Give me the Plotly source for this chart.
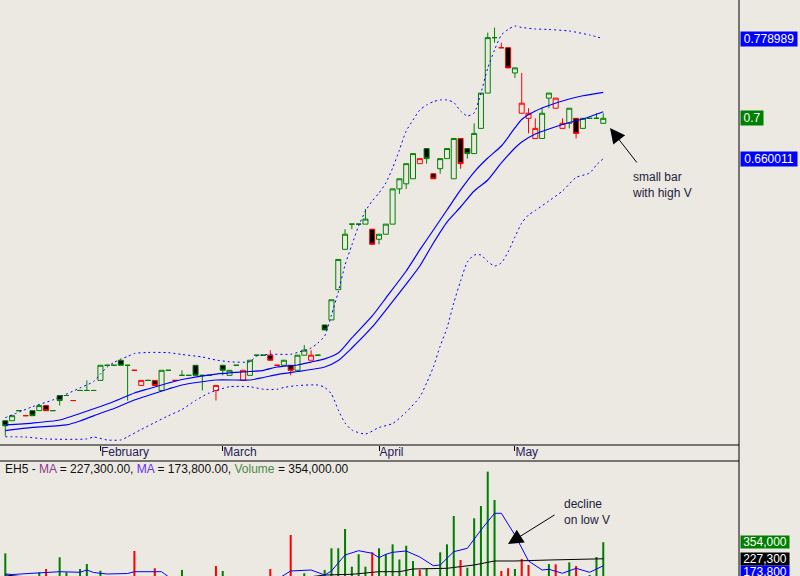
import plotly.graph_objects as go

# ---------------- data ----------------
session = list(range(1, 90))  # trading session number
month_names = ["February", "March", "April", "May"]
month_start_session = [15, 33, 56, 76]

open_ = [0.400, 0.400, 0.410, 0.405, 0.410, 0.410, 0.415, 0.410, 0.425, 0.425,
         0.420, 0.430, 0.430, 0.430, 0.440, 0.455, 0.455, 0.460, 0.455, 0.450,
         0.435, 0.440, 0.440, 0.430, 0.450, 0.440, 0.445, 0.445, 0.455, 0.445,
         0.445, 0.430, 0.455, 0.445, 0.455, 0.440, 0.445, 0.465, 0.465, 0.465,
         0.455, 0.455, 0.455, 0.450, 0.465, 0.460, 0.465, 0.495, 0.500, 0.530,
         0.570, 0.595, 0.595, 0.595, 0.590, 0.580, 0.585, 0.595, 0.630, 0.635,
         0.640, 0.655, 0.670, 0.645, 0.650, 0.660, 0.640, 0.680, 0.670, 0.665,
         0.690, 0.725, 0.780, 0.770, 0.770, 0.745, 0.705, 0.700, 0.680, 0.680,
         0.720, 0.710, 0.690, 0.695, 0.700, 0.690, 0.700, 0.700, 0.695]
high = [0.400, 0.405, 0.410, 0.405, 0.410, 0.415, 0.415, 0.410, 0.425, 0.425,
        0.420, 0.430, 0.440, 0.430, 0.455, 0.455, 0.455, 0.460, 0.455, 0.450,
        0.440, 0.440, 0.440, 0.450, 0.450, 0.440, 0.450, 0.445, 0.455, 0.445,
        0.445, 0.435, 0.455, 0.450, 0.455, 0.450, 0.460, 0.465, 0.465, 0.470,
        0.455, 0.460, 0.455, 0.465, 0.475, 0.470, 0.465, 0.495, 0.520, 0.560,
        0.590, 0.595, 0.595, 0.610, 0.590, 0.585, 0.595, 0.630, 0.640, 0.655,
        0.665, 0.660, 0.670, 0.645, 0.660, 0.670, 0.680, 0.680, 0.670, 0.695,
        0.725, 0.785, 0.790, 0.775, 0.770, 0.750, 0.745, 0.710, 0.700, 0.710,
        0.725, 0.720, 0.700, 0.710, 0.700, 0.700, 0.700, 0.705, 0.705]
low = [0.385, 0.400, 0.410, 0.405, 0.405, 0.410, 0.410, 0.410, 0.415, 0.425,
       0.420, 0.430, 0.430, 0.430, 0.440, 0.455, 0.455, 0.455, 0.420, 0.450,
       0.435, 0.440, 0.435, 0.430, 0.450, 0.440, 0.445, 0.445, 0.445, 0.430,
       0.445, 0.420, 0.445, 0.445, 0.455, 0.440, 0.445, 0.465, 0.465, 0.460,
       0.455, 0.455, 0.445, 0.450, 0.465, 0.460, 0.465, 0.490, 0.500, 0.530,
       0.570, 0.590, 0.595, 0.595, 0.575, 0.575, 0.585, 0.595, 0.625, 0.630,
       0.640, 0.655, 0.655, 0.640, 0.645, 0.660, 0.640, 0.650, 0.660, 0.665,
       0.690, 0.725, 0.775, 0.770, 0.750, 0.740, 0.705, 0.685, 0.680, 0.680,
       0.710, 0.710, 0.690, 0.690, 0.680, 0.690, 0.700, 0.700, 0.695]
close = [0.395, 0.405, 0.410, 0.405, 0.405, 0.415, 0.410, 0.410, 0.420, 0.425,
         0.420, 0.430, 0.430, 0.430, 0.455, 0.455, 0.455, 0.455, 0.455, 0.450,
         0.440, 0.440, 0.435, 0.450, 0.450, 0.440, 0.445, 0.445, 0.445, 0.445,
         0.445, 0.435, 0.450, 0.450, 0.455, 0.450, 0.460, 0.465, 0.465, 0.460,
         0.455, 0.460, 0.450, 0.465, 0.470, 0.465, 0.465, 0.490, 0.520, 0.560,
         0.585, 0.595, 0.595, 0.600, 0.575, 0.585, 0.595, 0.630, 0.640, 0.655,
         0.665, 0.660, 0.660, 0.640, 0.660, 0.670, 0.680, 0.655, 0.665, 0.685,
         0.725, 0.780, 0.780, 0.770, 0.750, 0.750, 0.715, 0.705, 0.690, 0.705,
         0.725, 0.720, 0.695, 0.710, 0.685, 0.700, 0.700, 0.700, 0.700]
volume = [269000, 70000, 60000, 55000, 65000, 124000, 149000, 60000, 239000, 124000,
          70000, 149000, 187000, 60000, 136000, 50000, 55000, 65000, 60000, 287000,
          70000, 50000, 155000, 80000, 50000, 45000, 142000, 50000, 70000, 60000,
          40000, 172000, 134000, 60000, 50000, 70000, 80000, 45000, 40000, 149000,
          60000, 70000, 409000, 80000, 116000, 60000, 50000, 142000, 308000, 308000,
          455000, 167000, 262000, 167000, 277000, 308000, 262000, 338000, 222000, 327000,
          210000, 142000, 155000, 80000, 277000, 338000, 555000, 218000, 159000, 537000,
          631000, 894000, 677000, 134000, 155000, 149000, 226000, 180000, 80000, 70000,
          187000, 185000, 80000, 200000, 172000, 70000, 103000, 241000, 354000]

# moving-average envelope (two solid blue lines)
ma_hi_session = [1, 5, 9, 12, 15, 17, 20, 22, 25, 27, 32, 37, 39, 41, 44, 46, 48, 50, 52, 55,
                 57, 60, 62, 64, 66, 68, 70, 72, 74, 76, 77, 79, 81, 84, 86, 89]
ma_hi = [0.3958, 0.3977, 0.4007, 0.4072, 0.4141, 0.4191, 0.4275, 0.4315, 0.4374, 0.4409,
         0.4463, 0.4488, 0.4500, 0.4533, 0.4553, 0.4582, 0.4614, 0.4672, 0.4821, 0.5039,
         0.5217, 0.5485, 0.5694, 0.5892, 0.6090, 0.6289, 0.6467, 0.6606, 0.6725, 0.6904,
         0.6988, 0.7072, 0.7127, 0.7191, 0.7224, 0.7258]
ma_lo_session = [1, 5, 10, 12, 15, 17, 20, 22, 25, 27, 32, 37, 39, 41, 44, 46, 48, 50, 52, 55,
                 57, 60, 62, 64, 66, 68, 70, 72, 74, 76, 77, 79, 81, 84, 86, 89]
ma_lo = [0.3901, 0.3933, 0.3958, 0.3997, 0.4074, 0.4121, 0.4206, 0.4250, 0.4315, 0.4354,
         0.4404, 0.4404, 0.4429, 0.4458, 0.4488, 0.4508, 0.4533, 0.4597, 0.4721, 0.4930,
         0.5098, 0.5356, 0.5535, 0.5763, 0.5971, 0.6120, 0.6279, 0.6388, 0.6557, 0.6705,
         0.6765, 0.6844, 0.6894, 0.6958, 0.6993, 0.7065]

# Bollinger bands (dotted)
bb_up_session = [1, 5, 8, 12, 14, 15, 16, 17, 18, 19, 20, 22, 25, 27, 30, 32, 34, 37, 38, 40,
                 43, 44, 46, 47, 48, 49, 50, 51, 52, 53, 54, 55, 56, 57, 58, 59, 60, 61, 62, 63,
                 64, 65, 66, 67, 68, 69, 70, 71, 72, 73, 74, 75, 76, 77, 79, 81, 84, 87, 89]
bb_up = [0.4030, 0.4139, 0.4206, 0.4325, 0.4389, 0.4463, 0.4533, 0.4578, 0.4612, 0.4637,
         0.4667, 0.4677, 0.4675, 0.4657, 0.4632, 0.4602, 0.4585, 0.4585, 0.4642, 0.4659,
         0.4659, 0.4677, 0.4721, 0.4771, 0.4840, 0.5049, 0.5277, 0.5545, 0.5743, 0.5932,
         0.6080, 0.6180, 0.6259, 0.6358, 0.6507, 0.6686, 0.6874, 0.6983, 0.7082, 0.7132,
         0.7165, 0.7182, 0.7182, 0.7157, 0.7072, 0.7023, 0.7053, 0.7251, 0.7499, 0.7678,
         0.7826, 0.7881, 0.7916, 0.7901, 0.7886, 0.7881, 0.7866, 0.7826, 0.778989]
bb_lo_session = [1, 4, 7, 13, 14, 16, 18, 19, 21, 23, 25, 27, 29, 31, 34, 37, 39, 41, 42, 44,
                 47, 48, 49, 50, 51, 52, 54, 56, 58, 60, 62, 63, 64, 65, 66, 67, 68, 69, 70, 71,
                 72, 73, 74, 75, 76, 77, 78, 79, 81, 83, 85, 87, 88, 89]
bb_lo = [0.3841, 0.3838, 0.3819, 0.3819, 0.3838, 0.3809, 0.3809, 0.3841, 0.3913, 0.3982,
         0.4049, 0.4111, 0.4201, 0.4275, 0.4337, 0.4337, 0.4312, 0.4312, 0.4330, 0.4349,
         0.4354, 0.4330, 0.4265, 0.4106, 0.3977, 0.3908, 0.3868, 0.3933, 0.3972, 0.4086,
         0.4235, 0.4374, 0.4533, 0.4741, 0.4920, 0.5168, 0.5386, 0.5574, 0.5644, 0.5644,
         0.5579, 0.5535, 0.5565, 0.5674, 0.5822, 0.5961, 0.6041, 0.6085, 0.6180, 0.6279,
         0.6413, 0.6457, 0.6537, 0.660011]

# volume moving averages
vma_fast_session = [1, 2, 9, 12, 13, 14, 15, 16, 19, 20, 24, 25, 30, 37, 41, 42, 43, 46, 48, 49,
                    50, 51, 53, 55, 56, 57, 58, 60, 62, 64, 65, 67, 69, 71, 73, 74, 76, 78, 80, 81,
                    83, 85, 87, 89]
vma_fast = [111000, 107000, 128500, 124000, 141500, 122400, 116300, 111000, 114700, 128500,
            128500, 90000, 60000, 55000, 70000, 100000, 134000, 141500, 103300, 134000,
            195000, 256300, 289200, 269300, 235600, 261600, 276900, 286900, 241000, 174400,
            179800, 281500, 307500, 447500, 575300, 575300, 409300, 210400, 141500, 146900,
            116300, 154500, 123900, 173800]
vma_slow_session = [1, 2, 3, 8, 20, 35, 46, 48, 52, 54, 56, 59, 61, 66, 70, 73, 76, 81, 86, 89]
vma_slow = [103300, 101000, 93000, 80000, 75000, 75000, 90000, 103000, 108600, 116300,
            128500, 128500, 149200, 154500, 179800, 210400, 210400, 218000, 223400, 227300]

# ---------------- styling ----------------
BG = "#ECE9E3"
GREEN = "#008000"
RED = "#FF0000"
BLUE = "#0000FF"
FONT = "Arial, Liberation Sans, sans-serif"
TXT = "#1c1c3c"
W, H = 800, 576
PLOT_W = 739

n = len(session)
up = [True] + [close[i] >= close[i - 1] for i in range(1, n)]

fig = go.Figure()

for flag, col in ((True, GREEN), (False, RED)):
    idx = [i for i in range(n) if up[i] == flag]
    fig.add_trace(go.Candlestick(
        x=[session[i] for i in idx],
        open=[open_[i] for i in idx], high=[high[i] for i in idx],
        low=[low[i] for i in idx], close=[close[i] for i in idx],
        increasing=dict(line=dict(color=col, width=1), fillcolor=BG),
        decreasing=dict(line=dict(color=col, width=1), fillcolor="black"),
        whiskerwidth=0, xaxis="x", yaxis="y", showlegend=False, hoverinfo="skip"))

for xs, ys in ((bb_up_session, bb_up), (bb_lo_session, bb_lo)):
    fig.add_trace(go.Scatter(x=xs, y=ys, mode="lines", xaxis="x", yaxis="y",
                             line=dict(color=BLUE, width=1, dash="2px,3px", shape="spline", smoothing=0.6),
                             hoverinfo="skip", showlegend=False))
for xs, ys in ((ma_hi_session, ma_hi), (ma_lo_session, ma_lo)):
    fig.add_trace(go.Scatter(x=xs, y=ys, mode="lines", xaxis="x", yaxis="y",
                             line=dict(color=BLUE, width=1.2, shape="spline", smoothing=0.6),
                             hoverinfo="skip", showlegend=False))

fig.add_trace(go.Bar(x=session, y=volume, width=0.3,
                     marker=dict(color=[GREEN if u else RED for u in up], line=dict(width=0)),
                     xaxis="x2", yaxis="y2", hoverinfo="skip", showlegend=False))
fig.add_trace(go.Scatter(x=vma_slow_session, y=vma_slow, mode="lines", xaxis="x2", yaxis="y2",
                         line=dict(color="black", width=1), hoverinfo="skip", showlegend=False))
fig.add_trace(go.Scatter(x=vma_fast_session, y=vma_fast, mode="lines", xaxis="x2", yaxis="y2",
                         line=dict(color=BLUE, width=1), hoverinfo="skip", showlegend=False))

# axis geometry (pixels -> values)
px_per_bar = 6.795
first_bar_px = 5.3
xr = [session[0] - first_bar_px / px_per_bar, session[0] + (PLOT_W - first_bar_px) / px_per_bar]
price_top, price_bottom = 0.81735, 0.37591
vol_bottom, vol_top = 95600, 975350
price_bottom_px, vol_top_px = 445, 461

fig.update_layout(
    width=W, height=H, margin=dict(l=0, r=W - PLOT_W, t=0, b=0),
    paper_bgcolor=BG, plot_bgcolor=BG, showlegend=False,
    boxgap=0.1, boxgroupgap=0.18, barmode="overlay",
    font=dict(family=FONT, size=12, color=TXT),
    xaxis=dict(domain=[0, 1], range=xr, anchor="y", rangeslider=dict(visible=False),
               tickmode="array", tickvals=month_start_session, ticktext=month_names,
               ticks="outside", ticklen=5, tickwidth=1, tickcolor="black",
               ticklabelposition="outside right", ticklabelstandoff=-4,
               tickfont=dict(family=FONT, size=12, color="#24205a"),
               showgrid=False, zeroline=False, showline=False),
    yaxis=dict(domain=[1 - price_bottom_px / H, 1], range=[price_bottom, price_top],
               showticklabels=False, showgrid=False, zeroline=False, ticks=""),
    xaxis2=dict(domain=[0, 1], range=xr, anchor="y2", showticklabels=False, ticks="",
                showgrid=False, zeroline=False, rangeslider=dict(visible=False)),
    yaxis2=dict(domain=[0, 1 - vol_top_px / H], range=[vol_bottom, vol_top],
                showticklabels=False, showgrid=False, zeroline=False, ticks=""),
)

line = dict(color="black", width=1)
fig.add_shape(type="line", xref="paper", yref="paper", x0=0, x1=1,
              y0=1 - price_bottom_px / H, y1=1 - price_bottom_px / H, line=line)
fig.add_shape(type="line", xref="paper", yref="paper", x0=0, x1=1,
              y0=1 - vol_top_px / H, y1=1 - vol_top_px / H, line=line)
fig.add_shape(type="line", xref="paper", yref="paper", x0=1, x1=1, y0=0, y1=1, line=line)

def tag(y, text, color, yref, width, height, yshift=0):
    fig.add_annotation(xref="paper", x=1, xanchor="left", xshift=1, yref=yref, y=y,
                       yanchor="middle", yshift=yshift, text=text, showarrow=False,
                       bgcolor=color, borderpad=0, width=width, height=height, align="center",
                       font=dict(family=FONT, size=12, color="white"))

tag(bb_up[-1], f"{bb_up[-1]:.6f}", BLUE, "y", 56, 14)
tag(close[-1], f"{close[-1]:g}", GREEN, "y", 22, 14)
tag(bb_lo[-1], f"{bb_lo[-1]:.6f}", BLUE, "y", 56, 14)
tag(volume[-1], f"{volume[-1]:,.0f}", GREEN, "y2", 48, 12)
tag(vma_slow[-1], f"{vma_slow[-1]:,.0f}", "black", "y2", 48, 12)
tag(vma_fast[-1], f"{vma_fast[-1]:,.0f}", BLUE, "y2", 48, 12, yshift=-6)

legend_text = (f"EH5 - <span style='color:#8a3a8a'>MA</span> = {vma_slow[-1]:,.2f}, "
               f"<span style='color:#6a2cf0'>MA</span> = {vma_fast[-1]:,.2f}, "
               f"<span style='color:#4a8a4a'>Volume</span> = {volume[-1]:,.2f}")
fig.add_annotation(xref="paper", yref="paper", x=3 / PLOT_W, y=1 - 469 / H, xanchor="left",
                   yanchor="middle", text=legend_text, showarrow=False,
                   font=dict(family=FONT, size=12, color="#111111"))

# notes + arrows
fig.add_annotation(xref="paper", yref="paper", x=630 / PLOT_W, y=1 - 168 / H, xanchor="left",
                   yanchor="top", align="left", text="small bar<br>with high V", showarrow=False,
                   font=dict(family=FONT, size=12, color=TXT))
fig.add_annotation(xref="paper", yref="paper", x=610 / PLOT_W, y=1 - 128 / H, ax=28, ay=36,
                   text="", showarrow=True, arrowhead=2, arrowsize=3, arrowwidth=1,
                   arrowcolor="black")
fig.add_annotation(xref="paper", yref="paper", x=562 / PLOT_W, y=1 - 495 / H, xanchor="left",
                   yanchor="top", align="left", text="decline<br>on low V", showarrow=False,
                   font=dict(family=FONT, size=12, color=TXT))
fig.add_annotation(xref="paper", yref="paper", x=508 / PLOT_W, y=1 - 544 / H, ax=48, ay=-30,
                   text="", showarrow=True, arrowhead=2, arrowsize=3, arrowwidth=1,
                   arrowcolor="black")

fig.write_html("out.html", config={"displayModeBar": False, "staticPlot": True},
               post_script="document.body.style.margin='0';document.body.style.overflow='hidden';")
